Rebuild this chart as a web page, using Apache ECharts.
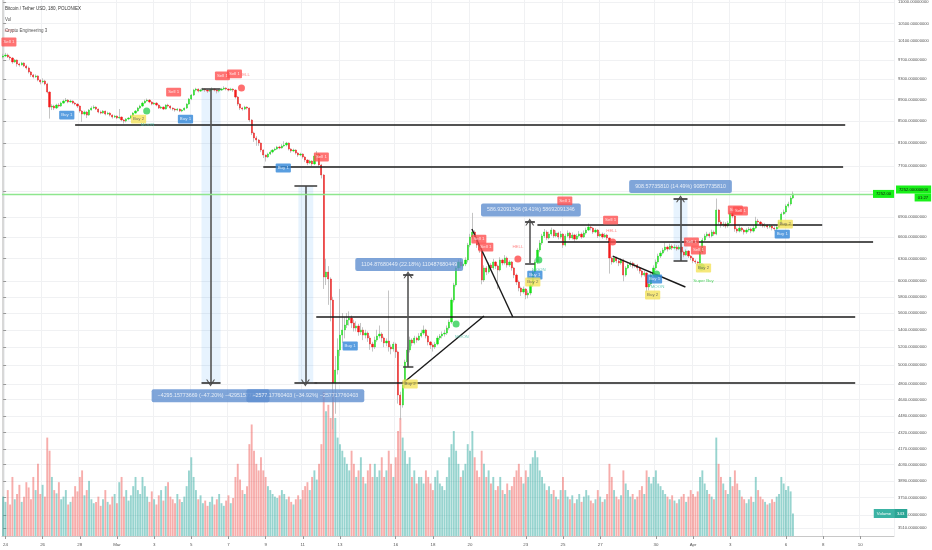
<!DOCTYPE html>
<html><head><meta charset="utf-8">
<script src="https://cdn.jsdelivr.net/npm/echarts@6/dist/echarts.min.js"></script>
<style>html,body{margin:0;padding:0;background:#fff}#c{width:932px;height:550px}</style>
</head><body><div id="c"></div>
<script>
// ---- data ----
const startTime = Date.UTC(2020, 1, 23, 21); // first 3h slot
const slotCount = 384;
const firstOpen = 9760;
const closes = [9783,9804,9762,9741,9657,9699,9615,9594,9636,9573,
9532,9450,9389,9348,9369,9287,9247,9267,9207,9047,
8757,8776,8738,8795,8776,8833,8872,8891,8853,8872,
8833,8814,8776,8681,8625,8662,8606,8700,8738,8757,
8719,8662,8643,8681,8625,8643,8606,8569,8588,8551,
8569,8514,8495,8532,8551,8588,8643,8681,8738,8776,
8833,8872,8891,8853,8814,8833,8795,8738,8757,8719,
8795,8776,8738,8719,8700,8719,8681,8700,8738,8814,
8910,8988,9086,9106,9066,9086,9106,9086,9066,9086,
9106,9086,9066,9086,9106,9126,9106,9086,9106,9086,
8949,8814,8738,8719,8757,8738,8514,8277,8188,8152,
8099,7977,7891,7857,7908,7942,7977,7994,8029,8012,
8047,8064,8099,7994,7960,7977,7925,7891,7908,7857,
7806,7756,7789,7739,7874,7908,7722,7556,6055,6121,
6029,5760,4810,4948,5168,5338,5397,5456,5515,5539,
5480,5421,5444,5374,5397,5338,5361,5304,5235,5202,
5281,5327,5350,5304,5247,5270,5202,5179,5235,5146,
4687,4586,4790,5035,5168,5281,5247,5304,5281,5327,
5361,5397,5327,5258,5224,5202,5235,5304,5327,5350,
5361,5421,5491,5760,5951,6175,6256,6202,6229,6283,
6490,6604,6676,6590,6490,6420,6016,6175,6121,6215,
6175,6256,6202,6148,6283,6242,6310,6215,6256,6175,
6081,5990,5912,5861,5899,5823,5848,5951,6121,6256,
6420,6518,6619,6676,6590,6647,6705,6619,6662,6604,
6647,6490,6619,6662,6590,6633,6575,6619,6647,6604,
6662,6705,6749,6734,6676,6705,6619,6647,6604,6633,
6590,6310,6256,6310,6270,6242,6283,6081,6175,6215,
6242,6202,6215,6175,6135,6081,6108,5925,5964,6081,
6175,6256,6337,6378,6420,6462,6434,6476,6448,6462,
6434,6462,6392,6351,6406,6337,6310,6270,6256,6242,
6392,6561,6619,6647,6619,6676,6647,7003,6823,6779,
6793,6764,6808,6958,6912,6720,6690,6734,6705,6676,
6705,6720,6690,6734,6838,6823,6793,6764,6779,6749,
6764,6734,6720,6749,6823,6943,6973,7064,7095,7188,
7252];
const highs = [9830,9850,9835,9790,9760,9720,9710,9640,9660,9650,
9600,9560,9470,9410,9400,9380,9300,9320,9290,9230,
9060,8810,8800,8820,8830,8860,8900,8930,8910,8900,
8885,8850,8830,8790,8700,8690,8680,8720,8770,8790,
8770,8730,8690,8700,8690,8670,8660,8620,8610,8600,
8720,8580,8530,8550,8570,8610,8660,8700,8760,8800,
8860,8900,8920,8910,8870,8850,8850,8810,8780,8770,
8810,8820,8790,8750,8740,8740,8730,8720,8750,8830,
8930,9010,9110,9130,9120,9110,9130,9120,9100,9110,
9140,9120,9100,9110,9130,9160,9140,9120,9130,9120,
9100,8970,8830,8760,8780,8770,8750,8530,8300,8220,
8170,8110,7990,7900,7930,7970,7990,8020,8050,8050,
8080,8130,8120,8110,8010,8000,7990,7940,7930,7920,
7870,7820,7810,7800,7900,7960,7920,7740,7570,6300,
6200,6050,5800,5100,5300,5900,5600,5550,5600,5620,
5570,5520,5500,5470,5480,5430,5400,5380,5330,5260,
5320,5400,5450,5370,5320,5300,5880,5230,5260,5250,
5160,4720,4830,5060,5200,5320,5300,5330,5320,5360,
5400,5450,5410,5340,5270,5240,5260,5330,5350,5380,
5400,5450,5520,5790,5980,6200,6290,6300,6260,6320,
6520,6650,6960,6700,6610,6520,6440,6210,6200,6250,
6240,6300,6270,6220,6320,6300,6350,6330,6280,6270,
6190,6100,6010,5930,5930,5910,5880,5980,6150,6290,
6450,6560,6650,6720,6700,6680,6740,6720,6700,6680,
6690,6660,6650,6700,6680,6670,6650,6650,6690,6670,
6700,6740,6800,6770,6750,6730,6720,6680,6670,6660,
6650,6600,6330,6340,6330,6290,6310,6300,6200,6240,
6270,6260,6240,6230,6190,6150,6140,6120,6000,6110,
6210,6290,6370,6410,6450,6520,6480,6510,6500,6500,
6490,6490,6480,6410,6430,6420,6350,6320,6290,6270,
6420,6590,6650,6680,6670,6710,6700,7180,7020,6850,
6830,6820,6840,6990,6980,6930,6740,6770,6750,6720,
6730,6750,6740,6770,6900,6870,6840,6810,6810,6790,
6790,6780,6760,6780,6850,6970,7010,7090,7130,7220,
7290];
const lows = [9730,9760,9740,9700,9620,9640,9560,9560,9580,9550,
9500,9420,9350,9320,9330,9260,9200,9220,9180,9020,
8540,8700,8700,8720,8750,8760,8820,8860,8830,8840,
8810,8790,8740,8650,8480,8600,8550,8590,8690,8720,
8700,8640,8620,8630,8600,8610,8580,8540,8550,8530,
8530,8490,8450,8470,8510,8530,8570,8630,8670,8720,
8760,8820,8860,8830,8790,8800,8770,8720,8720,8700,
8710,8750,8710,8690,8670,8680,8660,8660,8690,8720,
8800,8890,8970,9060,9040,9050,9070,9050,9030,9050,
9070,9060,9020,9040,9070,9090,9080,9060,9070,9050,
8920,8780,8700,8690,8700,8710,8480,8240,8120,8050,
8050,7940,7840,7780,7840,7890,7920,7960,7980,7990,
8000,8030,8040,7970,7930,7940,7900,7860,7870,7830,
7770,7720,7740,7700,7720,7850,7700,7500,5900,5950,
5700,5500,4350,4500,4900,5100,5250,5300,5420,5450,
5420,5380,5380,5330,5340,5280,5300,5260,5170,5150,
5180,5260,5300,5260,5200,5210,5150,5120,5150,5080,
4600,4440,4560,4760,5000,5140,5210,5230,5250,5270,
5310,5340,5300,5220,5180,5150,5180,5220,5280,5300,
5320,5340,5400,5470,5730,5930,6140,6170,6180,6200,
6250,6460,6580,6550,6450,6380,5960,5990,6080,6100,
6140,6150,6160,5900,6130,6210,6220,6180,6190,6140,
6040,5950,5870,5810,5840,5770,5780,5820,5930,6100,
6230,6390,6490,6590,6560,6570,6620,6590,6600,6570,
6580,6450,6470,6600,6560,6570,6540,6560,6600,6580,
6590,6640,6690,6700,6650,6660,6590,6600,6580,6590,
6560,6100,6220,6240,6240,6200,6220,6000,6060,6160,
6190,6170,6180,6140,6100,6050,6060,5860,5880,5940,
6060,6150,6230,6310,6360,6400,6400,6420,6420,6430,
6410,6420,6370,6320,6340,6310,6280,6240,6230,6200,
6220,6370,6540,6600,6590,6600,6620,6630,6790,6740,
6750,6730,6740,6790,6880,6680,6660,6670,6680,6640,
6650,6680,6660,6670,6720,6790,6760,6740,6740,6720,
6730,6700,6690,6700,6730,6800,6930,6950,7040,7070,
7170];
const volumes = [600,520,700,480,900,560,640,780,520,600,820,740,560,900,700,1100,640,780,600,1500,
1300,900,700,650,820,560,600,700,480,520,600,760,680,900,1000,620,700,840,560,500,
520,600,460,560,700,520,480,600,640,500,820,900,600,700,540,620,760,900,700,640,
900,760,600,520,680,560,480,620,700,540,760,820,600,560,500,640,560,520,600,760,
1000,1200,900,700,560,620,500,540,460,520,600,480,560,640,500,460,540,620,500,580,
900,1100,860,700,640,760,1400,1700,1300,1100,1000,1200,1000,900,760,700,640,600,580,620,
700,640,560,600,520,480,560,620,560,700,760,820,700,900,1000,860,1100,1400,2200,1900,
2000,1800,2200,1800,1500,1400,1300,1200,1100,1000,1300,1100,900,1000,1200,900,800,1000,1100,900,
1100,900,1000,1200,900,1000,1300,1100,900,1200,1600,1800,1500,1300,1100,1200,900,1000,800,900,
900,800,1000,900,800,700,900,1000,800,760,700,900,1200,1400,1600,1300,1100,900,1000,1100,
1400,1300,1600,1200,1000,900,1300,1100,900,1000,800,900,700,760,900,700,640,800,700,760,
900,1000,1100,900,800,1000,900,1100,1200,1300,1200,1000,900,800,700,760,640,700,600,560,
700,900,700,600,560,620,500,560,640,520,600,700,620,540,500,560,700,600,520,560,
640,1100,900,700,600,560,620,1000,800,700,600,640,560,600,700,760,640,1000,900,800,
900,1000,800,760,700,640,600,560,620,540,500,560,600,640,520,600,700,640,600,680,
900,1000,800,700,640,600,560,1500,1100,900,800,700,640,900,760,1000,800,700,600,560,
500,560,600,520,900,700,600,560,520,480,500,560,520,600,640,900,800,700,760,680,
343];
const priceTicks = [11000,10500,10100,9700,9300,8900,8500,8100,7700,7300,6900,6600,6300,6000,5800,5600,5400,5200,5000,4800,4640,4480,4320,4170,4030,3890,3750,3610,3510];
const priceRange = [3451, 11048];
const volumeMax = 8170;
const dateTicks = [[1,24,'24'],[1,26,'26'],[1,28,'28'],[2,1,'Mar'],[2,3,'3'],[2,5,'5'],[2,7,'7'],[2,9,'9'],[2,11,'11'],[2,13,'13'],[2,16,'16'],[2,18,'18'],[2,20,'20'],[2,23,'23'],[2,25,'25'],[2,27,'27'],[2,30,'30'],[3,1,'Apr'],[3,3,'3'],[3,6,'6'],[3,8,'8'],[3,10,'10']];

// annotations in (slot, price) space
const levels = [[8422,31,362.5],[7688,112,361.6],[6779,230,352.6],[6533,234.5,374.5],[5551,134.8,366.8],[4810,134,366.8]];
const trendLines = [[172.2,4810,207,5563],[201.8,6720,219.4,5551],[262.4,6337,293.7,5925]];
const measureArrows = [[89.3,9106,4810],[130.1,7378,4810],[174.3,4981,6086],[226.7,6237,6824],[291.6,6270,7178]];
const measureCaps = [[85.4,93.6],[125.4,135.2],[172.2,176.6],[224.7,228.9],[288.6,294.6]];
const measureBoxes = [[85.4,93.6,9106,4810],[127.1,133.5,7378,4810],[288.6,294.6,7178,6270]];
const measureLabels = [[89.3,4680,'−4295.15773669 (−47.20%) −429515773669'],[130.1,4680,'−2577.17760403 (−34.92%) −257717760403'],[174.8,6222,'1104.87680449 (22.18%) 110487680449'],[227.2,7003,'586.92091346 (9.41%) 58692091346'],[291.6,7370,'908.57735810 (14.49%) 90857735810']];
const tagSell = [[2.5,10085],[73.4,9047],[94.4,9369],[99.6,9409],[137,7857],[204.8,6575],[207.8,6462],[241.8,7142],[261.5,6852],[296.3,6533],[299.3,6420],[315.2,7003],[317.4,6988]];
const tagBuy1 = [[27.4,8606],[78.5,8532],[120.6,7672],[149.4,5213],[228.9,6081],[280.4,6029],[335.4,6647]];
const tagBuy2 = [[58.3,8532],[175.2,4800],[228,5990],[279.6,5823],[301.5,6175],[336.7,6793]];
const textHell = [[3,10327],[103.9,9389],[221.6,6462],[262,6690]];
const dotRed = [[102.6,9126],[221.6,6297],[262.4,6533]];
const dotGreen = [[61.8,8681],[195,5468],[230.6,6283],[281.3,6094],[300.6,6188]];
const textMoon = [[62.2,8422],[197.5,5315],[230.6,6148],[281.7,5925]];
const textSuperBuy = [[301.5,6003]];

// ---- build ----
const L = Math.log;
const opens = closes.map((c, i) => i ? closes[i - 1] : firstOpen);
const cats = [];
for (let i = 0; i < slotCount; i++) cats.push(new Date(startTime + i * 3 * 3600e3).toISOString());
const labelMap = {};
dateTicks.forEach(([m, d, t]) => { labelMap[Math.round((Date.UTC(2020, m, d) - startTime) / (3 * 3600e3))] = t; });
const showIdx = (i) => labelMap[i] !== undefined;

const wickData = closes.map((c, i) => [L(opens[i]), L(c), L(lows[i]), L(highs[i])]);
const bodyData = closes.map((c, i) => [L(opens[i]), L(c), L(Math.min(opens[i], c)), L(Math.max(opens[i], c))]);
const volData = volumes.map((v, i) => ({ value: v, itemStyle: { color: closes[i] >= opens[i] ? 'rgba(38,166,154,0.48)' : 'rgba(239,83,80,0.48)' } }));

const FONT = 'Liberation Sans';
const chevron = 'path://M0,10 L5,0 L10,10 L8.6,10 L5,3.2 L1.4,10 Z';
const lineData = [];
levels.forEach(([p, a, b]) => lineData.push([{ coord: [a, L(p)] }, { coord: [b, L(p)], lineStyle: { color: '#1a1a1a', width: 1.6 } }]));
trendLines.forEach(([a, p1, b, p2]) => lineData.push([{ coord: [a, L(p1)] }, { coord: [b, L(p2)], lineStyle: { color: '#1a1a1a', width: 1.4 } }]));
measureArrows.forEach(([x, p1, p2], k) => {
  lineData.push([{ coord: [x, L(p1)] }, { coord: [x, L(p2)], symbol: chevron, symbolSize: [9, 7], lineStyle: { color: '#555', width: 1.6 }, itemStyle: { color: '#555' } }]);
  const [c1, c2] = measureCaps[k];
  lineData.push([{ coord: [c1, L(p1)] }, { coord: [c2, L(p1)], lineStyle: { color: '#444', width: 1.6 } }]);
  lineData.push([{ coord: [c1, L(p2)] }, { coord: [c2, L(p2)], lineStyle: { color: '#444', width: 1.8 } }]);
});
const areaData = measureBoxes.map(([a, b, p1, p2]) => [{ coord: [a, L(p1)] }, { coord: [b, L(p2)] }]);
const lastClose = closes[closes.length - 1];
// last-price line
lineData.push([{ coord: [-0.5, L(lastClose)] }, { coord: [slotCount - 0.5, L(lastClose)], lineStyle: { color: '#8ee68e', width: 1.4 } }]);

function pts(arr) { return arr.map(([x, p]) => [x, L(p)]); }
function tagSeries(arr, text, bg, fg, z) {
  return { type: 'scatter', xAxisIndex: 1, yAxisIndex: 0, z: z || 7, data: pts(arr), symbolSize: 1, itemStyle: { color: 'rgba(0,0,0,0)' }, silent: true,
    label: { show: true, position: 'inside', formatter: text, fontSize: 4.4, fontFamily: FONT, color: fg, backgroundColor: bg, padding: bg ? [2.4, 2] : 0, borderRadius: 1 } };
}

const option = {
  animation: false,
  backgroundColor: '#ffffff',
  grid: [{ left: 0, right: 38, top: 0, bottom: 14 }],
  xAxis: [
    { type: 'category', data: cats, boundaryGap: true, gridIndex: 0,
      axisLine: { lineStyle: { color: '#c8c8c8', width: 1 } },
      axisTick: { show: true, alignWithLabel: true, interval: showIdx, length: 3, lineStyle: { color: '#999' } },
      axisLabel: { interval: showIdx, formatter: (v, i) => labelMap[i] || '', fontSize: 4.4, color: '#555', fontFamily: FONT, margin: 7 },
      splitLine: { show: true, interval: showIdx, lineStyle: { color: '#f0f1f3', width: 1 } } },
    { type: 'value', min: -0.5, max: slotCount - 0.5, gridIndex: 0, show: false }
  ],
  yAxis: [
    { type: 'value', position: 'right', min: L(priceRange[0]), max: L(priceRange[1]), gridIndex: 0, scale: true,
      axisLine: { show: true, lineStyle: { color: '#cfcfcf', width: 1.6 } },
      axisTick: { show: true, customValues: priceTicks.map(L), length: 3, lineStyle: { color: '#999' } },
      axisLabel: { customValues: priceTicks.map(L), fontSize: 4.1, color: '#555', fontFamily: FONT, margin: 4,
        formatter: (v) => { let best = priceTicks[0]; priceTicks.forEach(t => { if (Math.abs(L(t) - v) < Math.abs(L(best) - v)) best = t; }); return best.toFixed(8); } },
      splitLine: { show: true, lineStyle: { color: '#f0f1f3', width: 1 } } },
    { type: 'value', min: 0, max: volumeMax, gridIndex: 0, show: false, splitLine: { show: false } }
  ],
  graphic: [
    { type: 'text', left: 5, top: 6, z: 50, style: { text: 'Bitcoin / Tether USD, 180, POLONIEX', fontSize: 4.5, fill: '#333', fontFamily: FONT } },
    { type: 'text', left: 5, top: 17, z: 50, style: { text: 'Vol', fontSize: 4.5, fill: '#555', fontFamily: FONT } },
    { type: 'text', left: 5, top: 28, z: 50, style: { text: 'Crypto Engineering 3', fontSize: 4.5, fill: '#555', fontFamily: FONT } }
  ],
  series: [
    { type: 'bar', name: 'Volume', xAxisIndex: 0, yAxisIndex: 1, data: volData, barCategoryGap: '18%', z: 1, silent: true,
      markPoint: { symbol: 'rect', symbolSize: 1, itemStyle: { color: 'rgba(0,0,0,0)' },
        data: [{ coord: [slotCount - 1.6, volumes[volumes.length - 1]], label: { show: true, position: 'inside', formatter: '{a|Volume}{b|' + volumes[volumes.length - 1] + '}',
          rich: { a: { fontSize: 4.3, color: '#fff', backgroundColor: '#3bb3a4', padding: [2.5, 3], fontFamily: FONT }, b: { fontSize: 4.3, color: '#fff', backgroundColor: '#2aa595', padding: [2.5, 3], fontFamily: FONT } } } }] } },
    { type: 'scatter', xAxisIndex: 1, yAxisIndex: 0, data: [[0, L(7000)]], symbolSize: 0, z: 1.5, silent: true,
      markArea: { silent: true, itemStyle: { color: 'rgba(33,150,243,0.11)' }, data: areaData } },
    { type: 'candlestick', name: 'wick', xAxisIndex: 0, yAxisIndex: 0, data: wickData, barWidth: 0.8, z: 2, silent: true,
      itemStyle: { color: '#b5b5b5', color0: '#b5b5b5', borderColor: '#b5b5b5', borderColor0: '#b5b5b5', borderWidth: 0.8 } },
    { type: 'candlestick', name: 'body', xAxisIndex: 0, yAxisIndex: 0, data: bodyData, barWidth: 1.7, z: 3, silent: true,
      itemStyle: { color: '#16e016', color0: '#f21a1a', borderColor: '#16e016', borderColor0: '#f21a1a', borderWidth: 0.4 },
      markLine: { silent: true, symbol: 'none', animation: false, label: { show: false },
        lineStyle: { color: 'rgba(0,0,0,0)', width: 0 },
        data: [{ yAxis: L(lastClose), lineStyle: { color: 'rgba(0,0,0,0)', width: 0 }, label: { show: true, position: 'end', distance: 2,
          formatter: '{p|' + lastClose.toFixed(8) + '}\n{t|01:27}',
          rich: { p: { fontSize: 4.2, color: '#111', backgroundColor: '#19f019', padding: [2, 3], fontFamily: FONT, align: 'left' },
                  t: { fontSize: 4.2, color: '#111', backgroundColor: '#19f019', padding: [2, 3], fontFamily: FONT, align: 'right' } } } }] },
      markPoint: { symbol: 'rect', symbolSize: 1, itemStyle: { color: 'rgba(0,0,0,0)' },
        data: [{ coord: [cats[slotCount - 5], L(lastClose)], label: { show: true, position: 'inside', formatter: lastClose.toFixed(2), fontSize: 4.2, color: '#111', backgroundColor: '#19f019', padding: [2, 3], fontFamily: FONT } }] } },
    { type: 'scatter', xAxisIndex: 1, yAxisIndex: 0, data: [[0, L(7000)]], symbolSize: 0, z: 4, silent: true,
      markLine: { silent: true, symbol: 'none', animation: false, label: { show: false }, lineStyle: { color: '#1a1a1a', width: 1.5, type: 'solid' }, data: lineData } },
    { type: 'scatter', xAxisIndex: 1, yAxisIndex: 0, z: 6, silent: true, data: measureLabels.map(([x, p, t]) => [x, L(p), t]), symbolSize: 1, itemStyle: { color: 'rgba(0,0,0,0)' },
      label: { show: true, position: 'inside', formatter: (q) => q.data[2], fontSize: 5.3, color: '#fff', fontFamily: FONT, backgroundColor: '#5f8fcf', padding: [4, 6], borderRadius: 2 } },
    { type: 'scatter', xAxisIndex: 1, yAxisIndex: 0, z: 6, silent: true, data: pts(dotGreen), symbol: 'circle', symbolSize: 7, itemStyle: { color: '#2fcf55' } },
    { type: 'scatter', xAxisIndex: 1, yAxisIndex: 0, z: 6, silent: true, data: pts(dotRed), symbol: 'circle', symbolSize: 7, itemStyle: { color: '#ff4a4a' } },
    tagSeries(tagSell, 'Sell 1', '#ff5050', '#fff'),
    tagSeries(tagBuy1, 'Buy 1', '#2f86d8', '#fff'),
    tagSeries(tagBuy2, 'Buy 2', '#f4e25a', '#555'),
    tagSeries(textHell, 'HELL', null, '#ff6b6b'),
    tagSeries(textMoon, 'MOON', null, '#45bfa5'),
    tagSeries(textSuperBuy, 'Super Buy', null, '#28c83c')
  ]
};
const chart = echarts.init(document.getElementById('c'));
chart.setOption(option);
</script>
</body></html>
